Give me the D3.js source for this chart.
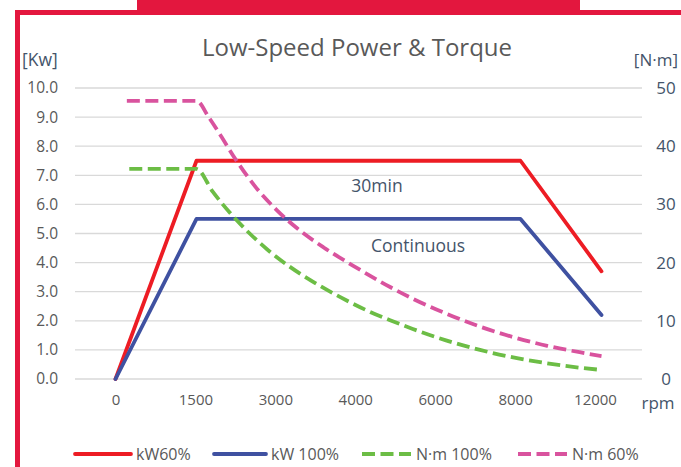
<!DOCTYPE html>
<html>
<head>
<meta charset="utf-8">
<script src="https://cdn.jsdelivr.net/npm/d3@7"></script>
<style>
  html, body { margin: 0; padding: 0; background: #fff; }
  svg { display: block; font-family: "Open Sans", "Noto Sans", sans-serif; }
</style>
</head>
<body>
<svg id="chart" width="681" height="467"></svg>
<script>
// rpm categories along the bottom
const rpmLabels = ["0", "1500", "3000", "4000", "6000", "8000", "12000"];

// power curves, one value per rpm category (kW)
const kw60 = [0, 7.5, 7.5, 7.5, 7.5, 7.5, 3.7];
const kw100 = [0, 5.5, 5.5, 5.5, 5.5, 5.5, 2.2];

// torque curves: [position in category units, N·m]
const nm60 = [
  [0.14, 47.8], [1.0, 47.8], [1.15, 45.0], [1.3, 41.8], [1.48, 37.8], [1.74, 32.8],
  [2.0, 28.9], [2.25, 25.8], [2.57, 22.6], [2.93, 19.5], [3.39, 15.8], [3.67, 13.8],
  [4.09, 11.2], [4.5, 9.0], [4.91, 7.2], [5.33, 5.7], [5.73, 4.6], [6.0, 3.95]
];
const nm100 = [
  [0.17, 36.1], [1.0, 36.1], [1.2, 32.2], [1.41, 28.6], [1.62, 25.5], [1.87, 22.3],
  [2.11, 19.7], [2.44, 16.7], [2.77, 14.1], [3.1, 11.8], [3.39, 10.1], [3.67, 8.6],
  [4.09, 6.6], [4.5, 5.0], [4.91, 3.7], [5.33, 2.7], [5.73, 1.95], [6.0, 1.55]
];

const kwTicks = d3.range(0, 10.01, 1);
const nmTicks = [0, 10, 20, 30, 40, 50];

const series = [
  { name: "kW60%", color: "#ED1C24", dash: null },
  { name: "kW 100%", color: "#3F51A1", dash: null },
  { name: "N·m 100%", color: "#6CBD45", dash: "13,5.5" },
  { name: "N·m 60%", color: "#D9539E", dash: "13,5.5" }
];

const svg = d3.select("#chart");
const frameRed = "#E3173E";
const grey = "#595959";
const slate = "#44546A";

// frame decoration
svg.append("rect").attr("x", 137).attr("y", 0).attr("width", 443).attr("height", 14).attr("fill", frameRed);
svg.append("rect").attr("x", 15).attr("y", 10).attr("width", 666).attr("height", 5).attr("fill", frameRed);
svg.append("rect").attr("x", 15).attr("y", 10).attr("width", 5).attr("height", 457).attr("fill", frameRed);

const plot = { left: 75, right: 642, top: 88, bottom: 379 };

const x = d3.scaleBand().domain(rpmLabels).range([plot.left, plot.right]);
const cx = d => x(d) + x.bandwidth() / 2;
const xPos = d3.scaleLinear().domain([0, rpmLabels.length - 1])
  .range([cx(rpmLabels[0]), cx(rpmLabels[rpmLabels.length - 1])]);
// tick labels sit a little tighter than the plotted points
const xLab = d3.scalePoint().domain(rpmLabels).range([115.5, 595]);
const yL = d3.scaleLinear().domain([0, 10]).range([plot.bottom, plot.top]);
const yR = d3.scaleLinear().domain([0, 50]).range([plot.bottom, plot.top]);

// gridlines
svg.append("g").selectAll("line").data(kwTicks).enter().append("line")
  .attr("x1", plot.left).attr("x2", plot.right)
  .attr("y1", d => yL(d)).attr("y2", d => yL(d))
  .attr("stroke", "#D9D9D9").attr("stroke-width", 1.3);

// left axis
const gL = svg.append("g").attr("transform", `translate(58,0)`)
  .call(d3.axisLeft(yL).tickValues(kwTicks).tickFormat(d3.format(".1f")).tickSize(0).tickPadding(0));
gL.select(".domain").remove();
gL.selectAll("text").attr("fill", grey).attr("font-size", 15.5).attr("font-family", "Open Sans");

// right axis
const gR = svg.append("g").attr("transform", `translate(666,0)`)
  .call(d3.axisRight(yR).tickValues(nmTicks).tickSize(0).tickPadding(0));
gR.select(".domain").remove();
gR.selectAll("text").attr("fill", slate).attr("font-size", 17).attr("font-family", "Open Sans")
  .attr("text-anchor", "middle");

// bottom axis
const gB = svg.append("g").attr("transform", `translate(0,394)`)
  .call(d3.axisBottom(xLab).tickSize(0).tickPadding(0));
gB.select(".domain").remove();
gB.selectAll("text").attr("fill", grey).attr("font-size", 15).attr("font-family", "Open Sans");

// units
svg.append("text").attr("x", 22).attr("y", 66).attr("fill", slate).attr("font-size", 17.5).text("[Kw]");
svg.append("text").attr("x", 678).attr("y", 66).attr("text-anchor", "end").attr("fill", slate).attr("font-size", 17).text("[N·m]");
svg.append("text").attr("x", 658).attr("y", 409).attr("text-anchor", "middle").attr("fill", slate).attr("font-size", 17).text("rpm");

// title
svg.append("text").attr("x", 357).attr("y", 56).attr("text-anchor", "middle")
  .attr("fill", grey).attr("font-size", 24).text("Low-Speed Power & Torque");

// power lines
const kwLine = d3.line().x((d, i) => cx(rpmLabels[i])).y(d => yL(d));
[[kw60, series[0]], [kw100, series[1]]].forEach(([vals, s]) => {
  svg.append("path").datum(vals).attr("d", kwLine)
    .attr("fill", "none").attr("stroke", s.color).attr("stroke-width", 3.8)
    .attr("stroke-linejoin", "round").attr("stroke-linecap", "round");
});

// torque lines
const nmLine = d3.line().x(d => xPos(d[0])).y(d => yR(d[1])).curve(d3.curveMonotoneX);
[[nm100, series[2]], [nm60, series[3]]].forEach(([vals, s]) => {
  svg.append("path").datum(vals).attr("d", nmLine)
    .attr("fill", "none").attr("stroke", s.color).attr("stroke-width", 3.8)
    .attr("stroke-dasharray", s.dash);
});

// annotations
svg.append("text").attr("x", 377).attr("y", 192).attr("text-anchor", "middle")
  .attr("fill", slate).attr("font-size", 17.5).text("30min");
svg.append("text").attr("x", 418).attr("y", 252).attr("text-anchor", "middle")
  .attr("fill", slate).attr("font-size", 17.5).text("Continuous");

// legend
const legendPos = [[75, 131], [214, 266], [362, 411], [518, 567]];
const lg = svg.append("g");
series.forEach((s, i) => {
  const [a, b] = legendPos[i];
  lg.append("line").attr("x1", a).attr("x2", b).attr("y1", 454).attr("y2", 454)
    .attr("stroke", s.color).attr("stroke-width", 3.8)
    .attr("stroke-dasharray", s.dash).attr("stroke-linecap", s.dash ? "butt" : "round");
  lg.append("text").attr("x", b + 5).attr("y", 459.5).attr("fill", grey).attr("font-size", 16).text(s.name);
});
</script>
</body>
</html>
